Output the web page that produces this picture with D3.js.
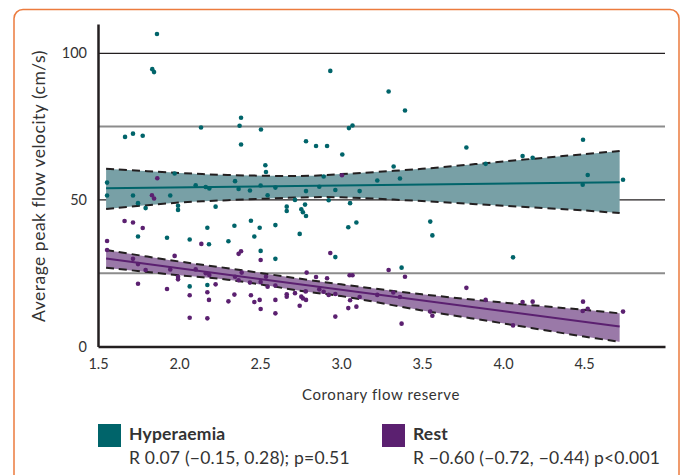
<!DOCTYPE html>
<html>
<head>
<meta charset="utf-8">
<script src="https://cdn.jsdelivr.net/npm/d3@7"></script>
<style>
  body { margin: 0; background: #fff; }
  text { font-family: Lato, "Open Sans", sans-serif; fill: #333; }
</style>
</head>
<body>
<div id="chart"></div>
<script>
// [coronary flow reserve, average peak flow velocity]
const hyperaemiaPoints = [
  [1.556,55.9],[1.556,51.5],[1.667,71.5],[1.716,72.6],[1.716,51.5],[1.747,48.9],[1.747,37.5],
  [1.776,71.9],[1.794,47.2],[1.835,94.6],[1.846,93.6],[1.864,106.6],[1.926,37.1],[1.946,51.5],
  [1.973,59.0],[1.994,48.0],[1.994,46.6],[2.066,36.5],[2.066,20.5],[2.103,55.0],[2.136,74.7],
  [2.165,54.4],[2.175,40.5],[2.175,21.0],[2.185,34.9],[2.187,53.9],[2.226,47.7],[2.305,35.9],
  [2.342,41.2],[2.346,56.4],[2.368,53.7],[2.374,75.3],[2.383,78.0],[2.383,68.9],[2.438,53.2],
  [2.444,42.9],[2.465,37.5],[2.498,40.5],[2.504,54.9],[2.504,32.6],[2.506,74.0],[2.533,61.8],
  [2.537,59.5],[2.547,51.6],[2.595,54.2],[2.595,41.4],[2.595,29.9],[2.665,47.7],[2.665,46.2],
  [2.716,50.0],[2.745,38.4],[2.755,46.8],[2.765,45.8],[2.778,48.4],[2.784,44.5],[2.784,70.0],
  [2.784,53.0],[2.846,68.4],[2.866,54.5],[2.893,58.0],[2.914,68.4],[2.924,49.9],[2.934,94.0],
  [2.965,53.4],[2.965,30.5],[3.008,65.5],[3.045,40.7],[3.049,74.5],[3.056,48.9],[3.071,75.4],
  [3.095,42.3],[3.115,53.0],[3.224,56.6],[3.294,87.0],[3.325,61.4],[3.364,57.3],[3.374,26.9],
  [3.395,80.5],[3.551,42.6],[3.564,37.9],[3.774,67.9],[3.893,62.3],[4.062,30.4],[4.121,65.0],
  [4.183,64.4],[4.492,55.2],[4.494,70.5],[4.523,58.5],[4.741,56.9]
];

const restPoints = [
  [1.556,36.0],[1.556,32.9],[1.664,42.8],[1.716,42.3],[1.716,29.9],[1.747,28.1],[1.747,21.4],
  [1.776,40.4],[1.794,26.1],[1.833,51.6],[1.846,50.5],[1.866,57.4],[1.926,19.6],[1.946,26.3],
  [1.973,30.9],[1.994,23.8],[1.994,22.9],[2.066,17.5],[2.066,9.8],[2.103,26.3],[2.138,35.0],
  [2.165,25.0],[2.175,18.5],[2.175,9.6],[2.185,15.9],[2.187,24.4],[2.226,21.2],[2.305,15.4],
  [2.342,17.7],[2.346,23.8],[2.368,22.6],[2.368,31.6],[2.383,32.5],[2.387,25.2],[2.438,21.8],
  [2.444,17.5],[2.465,15.2],[2.498,15.9],[2.504,22.0],[2.504,12.8],[2.504,29.5],[2.537,23.8],
  [2.547,20.4],[2.595,20.8],[2.595,15.9],[2.595,11.3],[2.665,17.8],[2.665,17.0],[2.716,18.2],
  [2.745,13.9],[2.755,17.0],[2.765,16.4],[2.782,18.8],[2.784,15.9],[2.788,25.2],[2.846,23.7],
  [2.866,19.5],[2.893,18.7],[2.914,23.3],[2.924,17.6],[2.934,31.9],[2.965,17.9],[2.965,10.2],
  [3.006,58.4],[3.045,13.1],[3.053,24.3],[3.056,15.8],[3.071,24.3],[3.095,13.6],[3.115,16.9],
  [3.224,17.6],[3.294,26.1],[3.323,18.4],[3.364,16.9],[3.374,7.8],[3.395,23.8],[3.551,11.9],
  [3.564,10.5],[3.774,20.0],[3.893,15.9],[4.062,7.2],[4.121,15.2],[4.183,15.3],[4.492,12.1],
  [4.494,15.3],[4.523,12.9],[4.741,11.9]
];

// regression fits and 95% bands
const bandCfr    = [1.55, 2.0, 2.3, 2.8, 3.0, 3.5, 4.0, 4.5, 4.72];
const hyperUpper = [60.6, 59.2, 58.5, 58.2, 58.8, 60.6, 63.1, 65.6, 66.7];
const hyperLower = [46.9, 49.1, 49.9, 50.9, 50.9, 49.6, 48.0, 46.4, 45.5];
const restUpper  = [32.9, 29.0, 26.7, 22.7, 21.2, 17.8, 15.0, 12.5, 11.3];
const restLower  = [26.9, 24.3, 22.8, 18.6, 17.2, 12.3, 7.9, 3.4, 1.6];
const fitCfr     = [1.55, 4.72];
const hyperFit   = [54.0, 56.0];
const restFit    = [30.0, 6.8];

const xTicks = [1.5, 2.0, 2.5, 3.0, 3.5, 4.0, 4.5];
const yLabels = [0, 50, 100];
const darkGrid = [50, 100];
const greyGrid = [25, 75];

const teal = "#00646a", tealBand = "#78a0a6";
const purple = "#5b2070", purpleBand = "#9a79a8";

const W = 681, H = 475;
const svg = d3.select("#chart").append("svg").attr("width", W).attr("height", H);

// orange card frame
svg.append("rect")
  .attr("x", 14).attr("y", 9.5).attr("width", 665).attr("height", 490)
  .attr("rx", 9).attr("fill", "none").attr("stroke", "#ec7b3e").attr("stroke-width", 1.5);

const x = d3.scaleLinear().domain([1.5, 5.0]).range([98, 665]);
const y = d3.scaleLinear().domain([0, 110]).range([346.5, 24]);

// gridlines
svg.append("g").selectAll("line").data(greyGrid).join("line")
  .attr("x1", x(1.5)).attr("x2", x(5.0))
  .attr("y1", d => y(d)).attr("y2", d => y(d))
  .attr("stroke", "#8c8c8c").attr("stroke-width", 2);
svg.append("g").selectAll("line").data(darkGrid).join("line")
  .attr("x1", x(1.5)).attr("x2", x(5.0))
  .attr("y1", d => y(d)).attr("y2", d => y(d))
  .attr("stroke", "#231f20").attr("stroke-width", 1.3);

const area = d3.area().curve(d3.curveCatmullRom)
  .x(d => x(d[0])).y0(d => y(d[1])).y1(d => y(d[2]));
const edge = d3.line().curve(d3.curveCatmullRom).x(d => x(d[0])).y(d => y(d[1]));

function band(upper, lower, fit, fill, col) {
  const rows = bandCfr.map((c, i) => [c, lower[i], upper[i]]);
  const g = svg.append("g");
  g.append("path").datum(rows).attr("d", area).attr("fill", fill);
  g.append("path").datum(fitCfr.map((c, i) => [c, fit[i]])).attr("d", edge)
    .attr("fill", "none").attr("stroke", col).attr("stroke-width", 2);
  [upper, lower].forEach(arr => {
    g.append("path").datum(bandCfr.map((c, i) => [c, arr[i]])).attr("d", edge)
      .attr("fill", "none").attr("stroke", "#231f20").attr("stroke-width", 2)
      .attr("stroke-dasharray", "8,5");
  });
}
band(hyperUpper, hyperLower, hyperFit, tealBand, teal);
band(restUpper, restLower, restFit, purpleBand, purple);

// points
svg.append("g").selectAll("circle").data(hyperaemiaPoints).join("circle")
  .attr("cx", d => x(d[0])).attr("cy", d => y(d[1])).attr("r", 2.3).attr("fill", teal);
svg.append("g").selectAll("circle").data(restPoints).join("circle")
  .attr("cx", d => x(d[0])).attr("cy", d => y(d[1])).attr("r", 2.3).attr("fill", purple);

// axes
const xAxis = svg.append("g").attr("transform", `translate(0,${y(0)})`)
  .call(d3.axisBottom(x).tickValues(xTicks).tickSize(0).tickPadding(12).tickFormat(d3.format(".1f")));
xAxis.select(".domain").attr("stroke", "#231f20").attr("stroke-width", 2.5);
xAxis.selectAll("text").attr("font-size", 14.5).style("font-family", "Lato, sans-serif").attr("fill", "#333");

const yAxis = svg.append("g").attr("transform", `translate(${x(1.5)},0)`)
  .call(d3.axisLeft(y).tickValues(yLabels).tickSize(0).tickPadding(11));
yAxis.select(".domain").attr("stroke", "#231f20").attr("stroke-width", 2.5);
yAxis.selectAll("text").attr("font-size", 14.5).style("font-family", "Lato, sans-serif").attr("fill", "#333");

svg.append("text").attr("x", 381).attr("y", 400).attr("text-anchor", "middle")
  .attr("font-size", 15).attr("letter-spacing", 0.6).text("Coronary flow reserve");
svg.append("text").attr("transform", "translate(45,186) rotate(-90)").attr("text-anchor", "middle")
  .attr("font-size", 17.5).attr("letter-spacing", 0.5).text("Average peak flow velocity (cm/s)");

// legend
const legend = [
  { name: "Hyperaemia", stat: "R 0.07 (\u22120.15, 0.28); p=0.51", color: teal, x: 98 },
  { name: "Rest", stat: "R \u22120.60 (\u22120.72, \u22120.44) p<0.001", color: purple, x: 382 }
];
const lg = svg.append("g").selectAll("g").data(legend).join("g")
  .attr("transform", d => `translate(${d.x},424)`);
lg.append("rect").attr("width", 23).attr("height", 23).attr("fill", d => d.color);
lg.append("text").attr("x", 31).attr("y", 16).attr("font-size", 17.5).attr("font-weight", 700)
  .attr("letter-spacing", 0.2).text(d => d.name);
lg.append("text").attr("x", 31).attr("y", 40).attr("font-size", 17.5).attr("letter-spacing", 0.2)
  .text(d => d.stat);
</script>
</body>
</html>
